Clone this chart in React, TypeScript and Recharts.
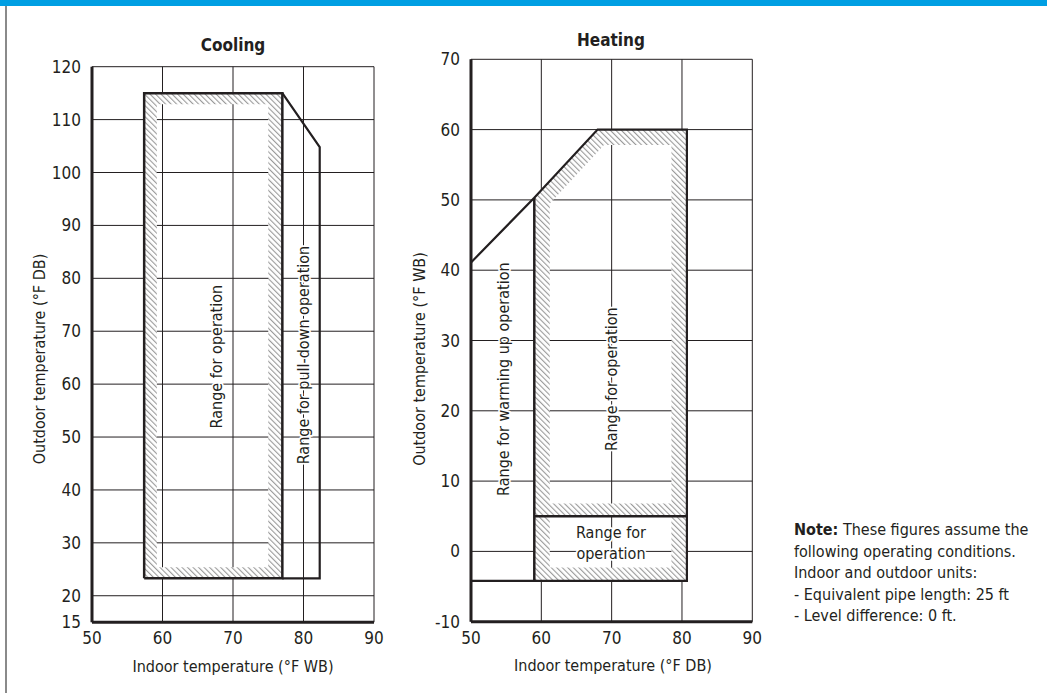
import React from 'react';
import { ComposedChart, Line, Area, XAxis, YAxis, CartesianGrid, ReferenceArea, ReferenceDot } from 'recharts';

const FONT = "'Liberation Sans Narrow', 'DejaVu Sans Condensed', 'Roboto Condensed', 'Arial Narrow', Roboto, sans-serif";
const INK = '#231f20';

// Cooling: indoor °F WB (x) vs outdoor °F DB (y)
const coolXTicks = [50, 60, 70, 80, 90];
const coolYTicks = [15, 20, 30, 40, 50, 60, 70, 80, 90, 100, 110, 120];
const coolOperation = [
  { x: 57.4, y: 23.3 },
  { x: 57.4, y: 115 },
  { x: 77, y: 115 },
  { x: 77, y: 23.3 },
  { x: 57.4, y: 23.3 },
];
const coolPullDown = [
  { x: 77, y: 115 },
  { x: 82.3, y: 104.8 },
  { x: 82.3, y: 23.3 },
  { x: 77, y: 23.3 },
];
// hatched margin inside the operation range, [x1, x2, y1, y2]
const coolHatch = [
  [57.4, 59.2, 23.3, 115],
  [75, 77, 23.3, 115],
  [57.4, 77, 112.9, 115],
  [57.4, 77, 23.3, 25.4],
];
const coolNotes = [
  { x: 67.6, y: 65.2, text: 'Range for operation' },
  { x: 80, y: 65.5, text: 'Range for pull-down operation' },
];

// Heating: indoor °F DB (x) vs outdoor °F WB (y)
const heatXTicks = [50, 60, 70, 80, 90];
const heatYTicks = [-10, 0, 10, 20, 30, 40, 50, 60, 70];
const heatWarmUp = [
  { x: 50, y: 41.1 },
  { x: 59, y: 50.3 },
  { x: 68, y: 60 },
  { x: 80.7, y: 60 },
  { x: 80.7, y: -4.2 },
  { x: 50, y: -4.2 },
];
const heatOperationLeft = [
  { x: 59, y: 50.3 },
  { x: 59, y: -4.2 },
];
const heatSplit = [
  { x: 59, y: 5 },
  { x: 80.7, y: 5 },
];
const heatHatch = [
  [59, 61.2, -4.2, 49.5],
  [78.5, 80.7, -4.2, 60],
  [59, 80.7, -4.2, -2.3],
  [59, 80.7, 5, 6.8],
];
const heatSlopeHatch = [
  { x: 59, band: [47.1, 50.3] },
  { x: 68, band: [56.8, 60] },
  { x: 68.9, band: [57.8, 60] },
  { x: 80.7, band: [57.8, 60] },
];
const heatNotes = [
  { x: 54.6, y: 24.5, text: 'Range for warming up operation' },
  { x: 70, y: 24.5, text: 'Range for operation' },
];
const heatLowNote = { x: 69.9, y: 1.2, lines: ['Range for', 'operation'] };

const noteLines = [
  'following operating conditions.',
  'Indoor and outdoor units:',
  '- Equivalent pipe length: 25 ft',
  '- Level difference: 0 ft.',
];

const haloText = {
  fill: INK,
  stroke: '#fff',
  strokeWidth: 3.5,
  paintOrder: 'stroke' as const,
  strokeLinejoin: 'round' as const,
  fontFamily: FONT,
  fontSize: 16,
};

const vertical = (text: string) => (props: any) => {
  const vb = props.viewBox;
  const cx = vb.x + vb.width / 2;
  const cy = vb.y + vb.height / 2;
  return (
    <text x={cx} y={cy} transform={`rotate(-90 ${cx} ${cy})`} textAnchor="middle" dominantBaseline="central" {...haloText}>
      {text}
    </text>
  );
};

const stacked = (lines: string[]) => (props: any) => {
  const vb = props.viewBox;
  const cx = vb.x + vb.width / 2;
  const cy = vb.y + vb.height / 2;
  return (
    <text textAnchor="middle" {...haloText}>
      {lines.map((l, i) => (
        <tspan key={l} x={cx} y={cy + (i - (lines.length - 1) / 2) * 21.5} dominantBaseline="central">
          {l}
        </tspan>
      ))}
    </text>
  );
};

const Tag = ({ x, y, rotate = 0, size = 16, bold = false, children }: any) => (
  <div
    style={{
      position: 'absolute',
      left: x,
      top: y,
      transform: `translate(-50%, -50%) rotate(${rotate}deg)`,
      whiteSpace: 'nowrap',
      fontSize: size,
      fontWeight: bold ? 700 : 400,
      lineHeight: 1,
    }}
  >
    {children}
  </div>
);

const tickStyle = { fill: INK, fontSize: 17, fontFamily: FONT };
const axisStyle = { stroke: INK, strokeWidth: 3 };

function Envelope(props: any) {
  const { left, width, margin, xTicks, yTicks, lines, rects, band, notes, low } = props;
  return (
    <div style={{ position: 'absolute', left, top: 0 }}>
      <ComposedChart width={width} height={693} margin={margin}>
        <CartesianGrid stroke={INK} strokeWidth={1} />
        <XAxis
          type="number"
          dataKey="x"
          domain={[xTicks[0], xTicks[xTicks.length - 1]]}
          ticks={xTicks}
          interval={0}
          allowDataOverflow
          height={30}
          tickLine={false}
          tickMargin={4}
          axisLine={axisStyle}
          tick={tickStyle}
        />
        <YAxis
          type="number"
          domain={[yTicks[0], yTicks[yTicks.length - 1]]}
          ticks={yTicks}
          interval={0}
          allowDataOverflow
          width={60}
          tickLine={false}
          tickMargin={5}
          axisLine={axisStyle}
          tick={tickStyle}
        />
        {rects.map((r: number[], i: number) => (
          <ReferenceArea key={i} x1={r[0]} x2={r[1]} y1={r[2]} y2={r[3]} fill="url(#hatch)" fillOpacity={1} stroke="none" />
        ))}
        {band && (
          <Area data={band} dataKey="band" type="linear" stroke="none" fill="url(#hatch)" fillOpacity={1} isAnimationActive={false} />
        )}
        {lines.map((l: any, i: number) => (
          <Line
            key={i}
            data={l.data}
            dataKey="y"
            type="linear"
            stroke={INK}
            strokeWidth={l.w}
            dot={false}
            activeDot={false}
            isAnimationActive={false}
          />
        ))}
        {notes.map((n: any) => (
          <ReferenceDot key={n.text} x={n.x} y={n.y} r={1} fill="none" stroke="none" label={{ content: vertical(n.text) }} />
        ))}
        {low && (
          <ReferenceDot x={low.x} y={low.y} r={1} fill="none" stroke="none" label={{ content: stacked(low.lines) }} />
        )}
      </ComposedChart>
    </div>
  );
}

export default function App() {
  return (
    <div
      style={{
        position: 'absolute',
        left: 0,
        top: 0,
        width: 1047,
        height: 693,
        background: '#fff',
        overflow: 'hidden',
        fontFamily: FONT,
        color: INK,
      }}
    >
      <svg width={0} height={0} style={{ position: 'absolute' }}>
        <defs>
          <pattern id="hatch" patternUnits="userSpaceOnUse" width={3.9} height={10} patternTransform="rotate(-45)">
            <rect width={3.9} height={10} fill="#fff" />
            <line x1={0.6} y1={0} x2={0.6} y2={10} stroke="#8f8f8f" strokeWidth={1} />
          </pattern>
        </defs>
      </svg>
      <div style={{ position: 'absolute', left: 0, top: 0, width: 1047, height: 6, background: '#009fe3' }} />
      <div style={{ position: 'absolute', left: 5, top: 6, width: 2, height: 687, background: '#8a8a8a' }} />

      <Envelope
        left={0}
        width={420}
        margin={{ top: 66.7, right: 46, bottom: 40.8, left: 32 }}
        xTicks={coolXTicks}
        yTicks={coolYTicks}
        rects={coolHatch}
        lines={[
          { data: coolPullDown, w: 2.2 },
          { data: coolOperation, w: 2.5 },
        ]}
        notes={coolNotes}
      />
      <Envelope
        left={380}
        width={400}
        margin={{ top: 59.3, right: 27.7, bottom: 41.3, left: 31 }}
        xTicks={heatXTicks}
        yTicks={heatYTicks}
        rects={heatHatch}
        band={heatSlopeHatch}
        lines={[
          { data: heatWarmUp, w: 2.2 },
          { data: heatOperationLeft, w: 2.5 },
          { data: heatSplit, w: 2.5 },
        ]}
        notes={heatNotes}
        low={heatLowNote}
      />

      <Tag x={233} y={45} size={17} bold>Cooling</Tag>
      <Tag x={611} y={40} size={17} bold>Heating</Tag>
      <Tag x={40} y={359} rotate={-90}>Outdoor temperature (°F DB)</Tag>
      <Tag x={233} y={667}>Indoor temperature (°F WB)</Tag>
      <Tag x={420} y={359} rotate={-90}>Outdoor temperature (°F WB)</Tag>
      <Tag x={613} y={666}>Indoor temperature (°F DB)</Tag>

      <div style={{ position: 'absolute', left: 794, top: 519, fontSize: 16, lineHeight: '21.5px', whiteSpace: 'nowrap' }}>
        <div>
          <b>Note:</b> These figures assume the
        </div>
        {noteLines.map((t) => (
          <div key={t}>{t}</div>
        ))}
      </div>
    </div>
  );
}
